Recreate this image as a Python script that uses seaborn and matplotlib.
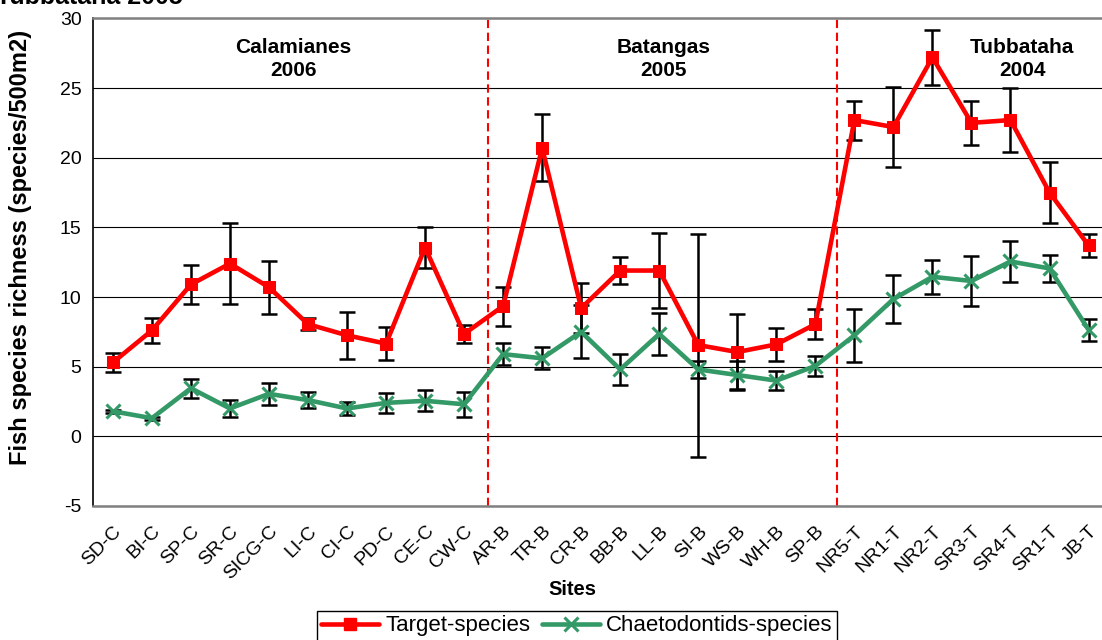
import numpy as np
import pandas as pd
import matplotlib
matplotlib.use("Agg")
import matplotlib.pyplot as plt
from matplotlib.lines import Line2D
import seaborn as sns

sites = ["SD-C", "BI-C", "SP-C", "SR-C", "SICG-C", "LI-C", "CI-C", "PD-C", "CE-C", "CW-C",
         "AR-B", "TR-B", "CR-B", "BB-B", "LL-B", "SI-B", "WS-B", "WH-B", "SP-B",
         "NR5-T", "NR1-T", "NR2-T", "SR3-T", "SR4-T", "SR1-T", "JB-T"]

target_mean = [5.3, 7.6, 10.9, 12.4, 10.7, 8.05, 7.25, 6.65, 13.55, 7.35,
               9.35, 20.7, 9.2, 11.9, 11.9, 6.55, 6.05, 6.6, 8.05,
               22.7, 22.2, 27.2, 22.5, 22.7, 17.5, 13.7]
target_err = [0.65, 0.9, 1.4, 2.9, 1.9, 0.43, 1.7, 1.2, 1.5, 0.65,
              1.4, 2.4, 1.8, 1.0, 2.7, 8.0, 2.7, 1.2, 1.1,
              1.4, 2.9, 2.0, 1.6, 2.3, 2.2, 0.8]

chaeto_mean = [1.8, 1.3, 3.45, 2.0, 3.05, 2.6, 2.0, 2.4, 2.55, 2.3,
               5.9, 5.6, 7.5, 4.8, 7.35, 4.8, 4.4, 4.0, 5.05,
               7.25, 9.85, 11.45, 11.15, 12.55, 12.05, 7.65]
chaeto_err = [0.1, 0.1, 0.7, 0.6, 0.8, 0.55, 0.45, 0.7, 0.75, 0.9,
              0.8, 0.8, 1.9, 1.1, 1.5, 0.6, 1.0, 0.7, 0.7,
              1.9, 1.7, 1.2, 1.8, 1.5, 1.0, 0.8]

regions = ["Calamianes\n2006", "Batangas\n2005", "Tubbataha\n2004"]
region_x = [4.62, 14.1, 23.3]
region_breaks = [9.62, 18.56]

RED = "#ff0000"
GREEN = "#339966"

sns.set_style("white")
plt.rcParams["font.family"] = ["Liberation Sans", "DejaVu Sans"]
plt.rcParams["axes.unicode_minus"] = False
plt.rcParams["text.color"] = "black"
plt.rcParams["axes.labelcolor"] = "black"
plt.rcParams["xtick.color"] = "black"
plt.rcParams["ytick.color"] = "black"

x = np.arange(len(sites))
df = pd.DataFrame({"site": x, "target": target_mean, "chaeto": chaeto_mean})

fig = plt.figure(figsize=(11.02, 6.4), dpi=100)
ax = fig.add_axes([0.0847, 0.2094, 0.9208, 0.7619])

# error bars first, lines and markers on top
ax.errorbar(x, target_mean, yerr=target_err, fmt="none", ecolor="black",
            elinewidth=1.8, capsize=5.5, capthick=1.8, zorder=2)
ax.errorbar(x, chaeto_mean, yerr=chaeto_err, fmt="none", ecolor="black",
            elinewidth=1.8, capsize=5.5, capthick=1.8, zorder=2)

sns.lineplot(data=df, x="site", y="target", color=RED, lw=3.3, marker="s",
             markersize=8, mec=RED, mfc=RED, ax=ax, zorder=3)
sns.lineplot(data=df, x="site", y="chaeto", color=GREEN, lw=3.3, marker="x",
             markersize=10, mew=2.2, mec=GREEN, ax=ax, zorder=3)

# red dashed separators between regions
for b in region_breaks:
    ax.axvline(b, color=RED, ls=(0, (4, 2.2)), lw=1.5, zorder=1)

for name, rx in zip(regions, region_x):
    ax.text(rx, 27.1, name, ha="center", va="center", fontsize=15,
            fontweight="bold", linespacing=1.3)

ax.set_xlim(-0.5, 25.5)
ax.set_ylim(-5, 30)
ax.set_yticks(range(-5, 31, 5))
ax.yaxis.grid(True, color="black", lw=0.8)
ax.set_axisbelow(True)

ax.set_xticks(x)
ax.set_xticklabels(sites, rotation=45, ha="right", rotation_mode="anchor", fontsize=14)
ax.set_xticks(np.arange(-0.5, 26, 1), minor=True)
ax.tick_params(axis="x", which="major", length=0, pad=12)
ax.tick_params(axis="x", which="minor", length=5, width=1, color="black", direction="out")
ax.tick_params(axis="y", length=5, width=1, color="black", direction="out", labelsize=14)

for side in ["top", "bottom", "right"]:
    ax.spines[side].set_color("#808080")
    ax.spines[side].set_linewidth(1.8)
ax.spines["left"].set_color("black")
ax.spines["left"].set_linewidth(1.2)

ax.set_xlabel("Sites", fontsize=14.5, fontweight="bold")
ax.xaxis.set_label_coords(0.472, -0.152)
ax.set_ylabel("Fish species richness (species/500m2)", fontsize=17, fontweight="bold")
ax.yaxis.set_label_coords(-0.06, 0.53)

handles = [
    Line2D([], [], color=RED, lw=3.3, marker="s", markersize=8),
    Line2D([], [], color=GREEN, lw=3.3, marker="x", markersize=10, mew=2.2),
]
leg = fig.legend(handles, ["Target-species", "Chaetodontids-species"], loc="upper center",
                 bbox_to_anchor=(577 / 1102, 1 - 611 / 640), ncol=2, fontsize=16,
                 frameon=True, fancybox=False, edgecolor="black", framealpha=1,
                 borderpad=0.2, handlelength=2.6, columnspacing=0.5,
                 handletextpad=0.3, borderaxespad=0)
leg.get_frame().set_linewidth(1.0)

# title partly cut off at the top of the picture, as in the source
fig.text(183 / 1102, 1 - 4 / 640, "Tubbataha 2005", ha="right", va="baseline",
         fontsize=18, fontweight="bold")

fig.savefig("out.png", dpi=100)
